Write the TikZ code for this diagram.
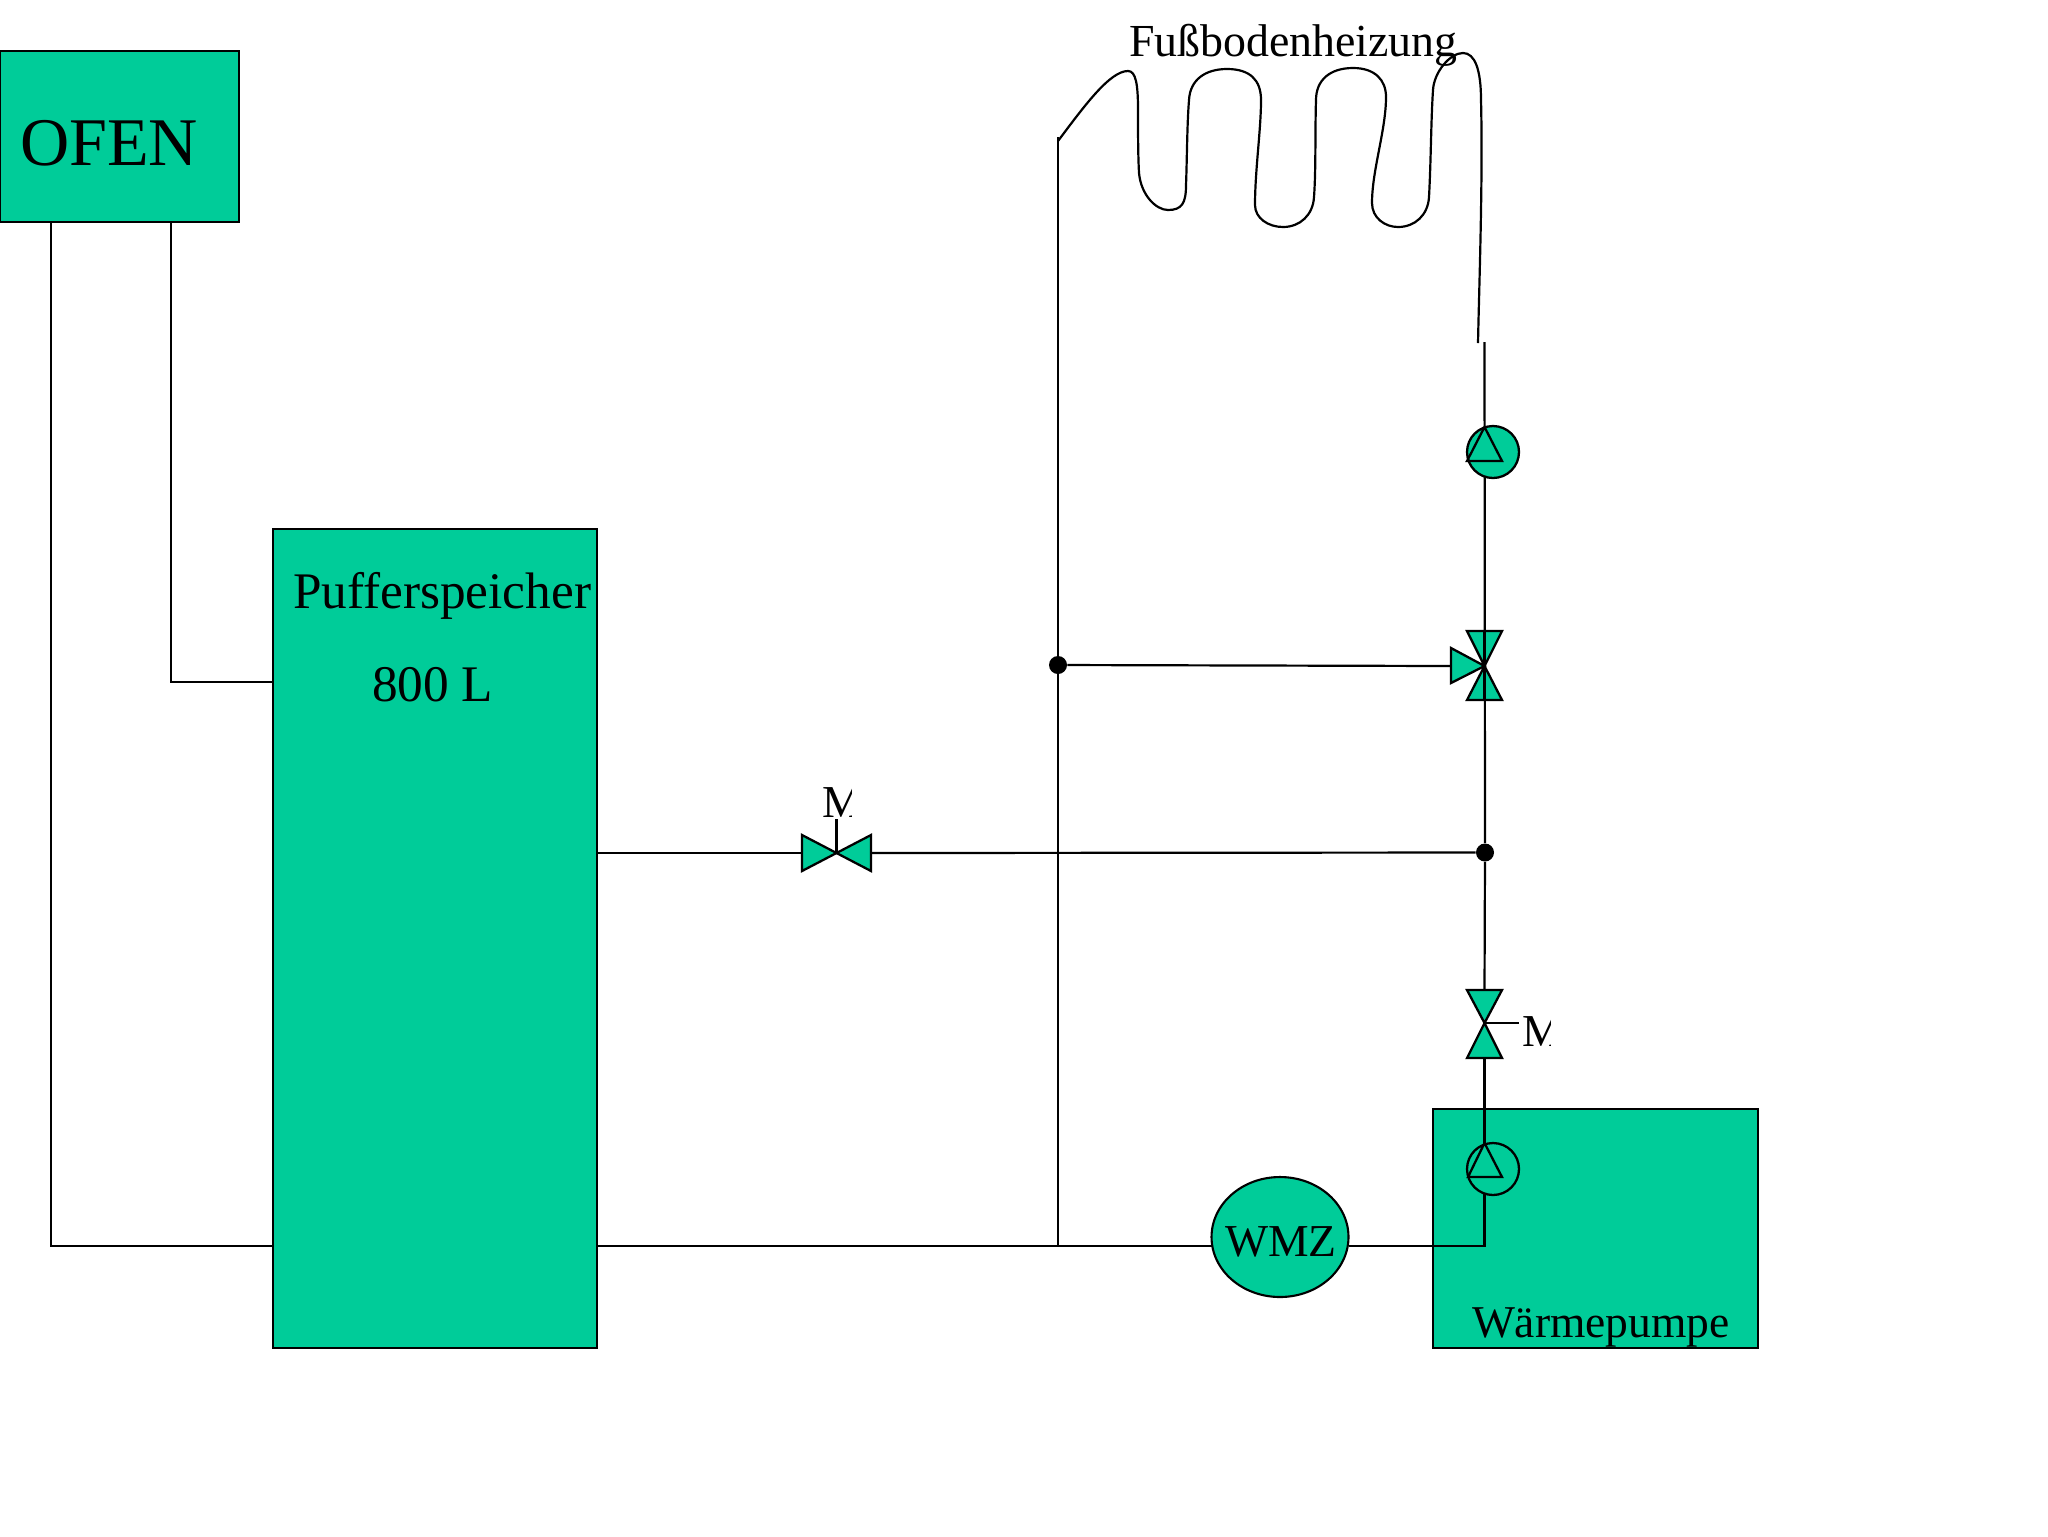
\documentclass[tikz,border=0pt]{standalone}
\usepackage{fontspec}
\setmainfont{Liberation Serif}
\usetikzlibrary{calc, positioning, shapes.geometric}
\definecolor{anlageGreen}{RGB}{0,204,153}

\begin{document}
\begin{tikzpicture}[
  x=0.02cm, y=-0.02cm,
  tank/.style={rectangle, fill=anlageGreen, draw=black, line width=1.2pt,
    inner sep=0pt, outer sep=0pt},
  lbl/.style={anchor=base west, inner sep=0pt, outer sep=0pt},
  pipe/.style={line width=1.25pt, color=black},
  sym/.style={fill=anlageGreen, draw=black, line width=1.3pt, line join=miter},
  tri/.style={draw=black, line width=1.3pt},
  pumpe/.style={circle, draw=black, fill=anlageGreen, line width=1.3pt,
    minimum size=1.04cm, inner sep=0pt},
  dot/.style={circle, fill=black, inner sep=0pt, minimum size=0.36cm},
]
\useasboundingbox (0,0) rectangle (2048,1536);

%% ── Tanks and heat sources ───────────────────────────────────────────────────
\node[tank, minimum width=4.78cm, minimum height=3.42cm]
  (OFEN) at (119.5, 136.5) {};
\node[tank, minimum width=6.48cm, minimum height=16.38cm]
  (PUFFER) at (435, 938.5) {};
\node[tank, minimum width=6.50cm, minimum height=4.78cm]
  (WP) at (1595.5, 1228.5) {};

\node[lbl, font=\fontsize{38.8}{39}\selectfont] (OFENtxt) at (20, 165) {OFEN};
\node[lbl, font=\fontsize{29.2}{30}\selectfont] (PUFtxt) at (293, 608) {Pufferspeicher};
\node[lbl, font=\fontsize{29.2}{30}\selectfont] (VOLtxt) at (372, 701) {800 L};
\node[lbl, font=\fontsize{25.9}{26}\selectfont] (WPtxt) at (1472, 1337) {Wärmepumpe};
\node[lbl, font=\fontsize{26.1}{26}\selectfont] (FBHtxt) at (1129, 56) {Fußbodenheizung};

%% ── Fixed points on the pipes ────────────────────────────────────────────────
\coordinate (V1) at (836.5, 853);
\coordinate (V1L) at (802, 853);
\coordinate (V1R) at (871, 853);
\coordinate (V1M) at (836.5, 819);
\coordinate (V2) at (1484.5, 1023);
\coordinate (V2T) at (1484.5, 990);
\coordinate (V2B) at (1484.5, 1058);
\coordinate (V2M) at (1519, 1023);
\coordinate (V3) at (1484.5, 666);
\coordinate (V3L) at (1451, 666);
\coordinate (V3T) at (1484.5, 631);
\coordinate (V3B) at (1484.5, 700);
\coordinate (RL) at (1058, 1246);
\coordinate (CORNER) at (1484.5, 1246);
\coordinate (HKin) at (1058, 141);
\coordinate (HKtop) at (1058, 137);
\coordinate (HKout) at (1478, 343);
\coordinate (VLtop) at (1484.5, 342);

\node[dot] (D1) at (1058, 665) {};
\node[dot] (D2) at (1485, 852.5) {};

\node[tank, ellipse, minimum width=2.74cm, minimum height=2.40cm]
  (WMZ) at (1280, 1237) {};
\node[lbl, font=\fontsize{26}{26}\selectfont] (WMZtxt) at (1225, 1256) {WMZ};

%% ── Pipes ────────────────────────────────────────────────────────────────────
\draw[pipe] ([xshift=1.02cm]OFEN.south west) |- (PUFFER.west |- RL);
\draw[pipe] ([xshift=3.42cm]OFEN.south west) |- ($(PUFFER.north west)!0.187!(PUFFER.south west)$);
\draw[pipe] (PUFFER.east |- V1L) -- (V1L);
\draw[pipe] (V1R) -- (D2);
\draw[pipe] (V1) -- (V1M);
\draw[pipe] (PUFFER.east |- RL) -- (RL) -- (RL -| WMZ.west);
\draw[pipe] (WMZ.east |- RL) -- (CORNER) -- (V2B);
\draw[pipe] (V2T) -- (D2) -- (VLtop);
\draw[pipe] (HKtop) -- (RL);
\draw[pipe] (D1) -- (V3L);
\draw[pipe] (V2) -- (V2M);

%% ── Underfloor heating loop ──────────────────────────────────────────────────
\draw[pipe] (HKin)
  .. controls (1085, 105) and (1110, 71) .. (1128, 71)
  .. controls (1136, 71) and (1138, 85) .. (1138, 110)
  .. controls (1138, 130) and (1138, 155) .. (1139, 173)
  .. controls (1141, 195) and (1156, 210) .. (1168, 210)
  .. controls (1182, 210) and (1186, 203) .. (1186, 185)
  .. controls (1187, 160) and (1187, 125) .. (1189, 100)
  .. controls (1190, 80) and (1205, 69) .. (1227, 69)
  .. controls (1250, 69) and (1261, 80) .. (1261, 100)
  .. controls (1261, 130) and (1255, 170) .. (1255, 205)
  .. controls (1255, 218) and (1268, 227) .. (1283, 227)
  .. controls (1300, 227) and (1313, 215) .. (1314, 197)
  .. controls (1316, 170) and (1315, 130) .. (1316, 100)
  .. controls (1316, 80) and (1330, 68) .. (1353, 68)
  .. controls (1375, 68) and (1386, 80) .. (1386, 97)
  .. controls (1386, 130) and (1372, 170) .. (1372, 203)
  .. controls (1372, 218) and (1385, 227) .. (1398, 227)
  .. controls (1415, 227) and (1428, 215) .. (1429, 197)
  .. controls (1431, 160) and (1431, 120) .. (1433, 90)
  .. controls (1434, 72) and (1450, 53) .. (1463, 53)
  .. controls (1475, 53) and (1481, 70) .. (1481, 100)
  .. controls (1483, 180) and (1479, 290) .. (HKout);

%% ── Valves and pumps ─────────────────────────────────────────────────────────
\draw[sym] (V1) -- (802, 835) -- (802, 871) -- cycle;
\draw[sym] (V1) -- (871, 835) -- (871, 871) -- cycle;

\draw[sym] (V2) -- (1467, 990) -- (1502, 990) -- cycle;
\draw[sym] (V2) -- (1467, 1058) -- (1502, 1058) -- cycle;

\draw[sym] (V3) -- (1467, 631) -- (1502, 631) -- cycle;
\draw[sym] (V3) -- (1467, 700) -- (1502, 700) -- cycle;
\draw[sym] (V3) -- (1451, 648) -- (1451, 683) -- cycle;
\draw[pipe] (V3T) -- (V3B);

\node[pumpe] (P1) at (1493, 452) {};
\draw[tri] (1484.5, 427) -- (1502, 461) -- (1467, 461) -- cycle;

\node[pumpe] (P2) at (1493, 1169) {};
\draw[tri] (1484.5, 1143) -- (1502, 1177) -- (1468, 1177) -- cycle;

\draw[pipe] (1484.5, 1143) -- (V2B);

%% ── Actuator letters (cut off at the right) ─────────────────────────────────
\begin{scope}
  \clip (815, 770) rectangle (851, 830);
  \node[lbl, font=\fontsize{26}{26}\selectfont] (M1) at (822, 817) {M};
\end{scope}
\begin{scope}
  \clip (1515, 1005) rectangle (1550, 1060);
  \node[lbl, font=\fontsize{26}{26}\selectfont] (M2) at (1522, 1046) {M};
\end{scope}

\end{tikzpicture}
\end{document}
